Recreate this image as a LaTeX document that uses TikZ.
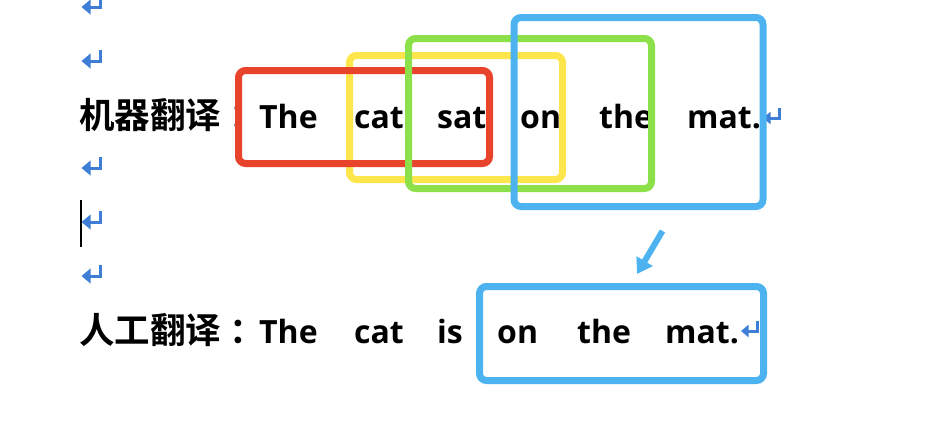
\documentclass[tikz,border=0pt]{standalone}
\usepackage{fontspec}
\newfontfamily\cjkfont{Noto Sans CJK SC Bold}
\newfontfamily\latfont{Open Sans}[BoldFont={Open Sans Bold}]
\usetikzlibrary{arrows.meta,calc}
\definecolor{cred}{HTML}{E8442B}
\definecolor{cyel}{HTML}{FDE64B}
\definecolor{cgrn}{HTML}{8CE04A}
\definecolor{cblu}{HTML}{4CB3F0}
\definecolor{cret}{HTML}{3E7ED6}
\tikzset{
  zh/.style={anchor=base west, inner sep=0pt, font=\cjkfont\fontsize{35.5}{35.5}\selectfont},
  wd/.style={anchor=base west, inner sep=0pt, font=\latfont\bfseries\fontsize{32}{32}\selectfont},
  hl/.style={draw=#1, line width=7pt, rounded corners=7pt, anchor=north west, inner sep=0pt, outer sep=0pt, fill=none},
  retmark/.style={draw=cret, line width=3pt},
  bigarrow/.style={draw=cblu, line width=6pt, -{Triangle[length=15pt,width=18pt]}}
}
\newcommand{\retsym}[4]{% name, x right, y horizontal, size
  \coordinate (#1) at (#2,#3);
  \draw[retmark] ($(#1)+(0,-0.6*#4)$) -- ($(#1)+(0,1.5)$);
  \draw[retmark] (#1) -- ($(#1)+(-0.55*#4,0)$);
  \fill[cret] ($(#1)+(-#4,0)$) -- ($(#1)+(-0.52*#4,0.4*#4)$) -- ($(#1)+(-0.52*#4,-0.4*#4)$) -- cycle;
}
\begin{document}
\begin{tikzpicture}[x=1pt,y=-1pt]
\useasboundingbox (0,0) rectangle (934,434);
\fill[white] (0,0) rectangle (934,434);
% return marks on the left
\retsym{r0}{100.5}{7}{19}
\retsym{r1}{100.5}{61}{19}
\retsym{r2}{100.5}{168}{19}
\retsym{r3}{100.5}{222}{19}
\retsym{r4}{100.5}{276}{19}
% cursor
\draw[black, line width=1.6pt] (81,200) -- (81,247);
% line 1
\node[zh] (l1) at (79,128) {机器翻译};
\node[zh] (c1) at (229,128) {：};
\node[wd] (w11) at (259,128) {The};
\node[wd] (w12) at (354,128) {cat};
\node[wd] (w13) at (437,128) {sat};
\node[wd] (w14) at (520,128) {on};
\node[wd] (w15) at (599,128) {the};
\node[wd] (w16) at (687,128) {mat.};
\retsym{r5}{779}{118}{16}
% line 2
\node[zh] (l2) at (79,343) {人工翻译};
\node[zh] (c2) at (229,343) {：};
\node[wd] (w21) at (259,343) {The};
\node[wd] (w22) at (354,343) {cat};
\node[wd] (w23) at (437,343) {is};
\node[wd] (w24) at (497,343) {on};
\node[wd] (w25) at (577,343) {the};
\node[wd] (w26) at (665,343) {mat.};
\retsym{r6}{757}{331}{16}
% highlight boxes
\node[hl=cyel, minimum width=213pt, minimum height=124pt] (ybox) at (349.5,55.5) {};
\node[hl=cred, minimum width=251pt, minimum height=93pt] (rbox) at (238.5,70.5) {};
\node[hl=cgrn, minimum width=243pt, minimum height=150pt] (gbox) at (408.5,38.5) {};
\node[hl=cblu, minimum width=249pt, minimum height=189pt] (bbox) at (514,17.5) {};
\node[hl=cblu, minimum width=284pt, minimum height=94pt] (bbox2) at (479.5,286.5) {};
% arrow
\coordinate (a1) at (662.5,231);
\coordinate (a2) at (637,274);
\draw[bigarrow] (a1) -- (a2);
\end{tikzpicture}
\end{document}
